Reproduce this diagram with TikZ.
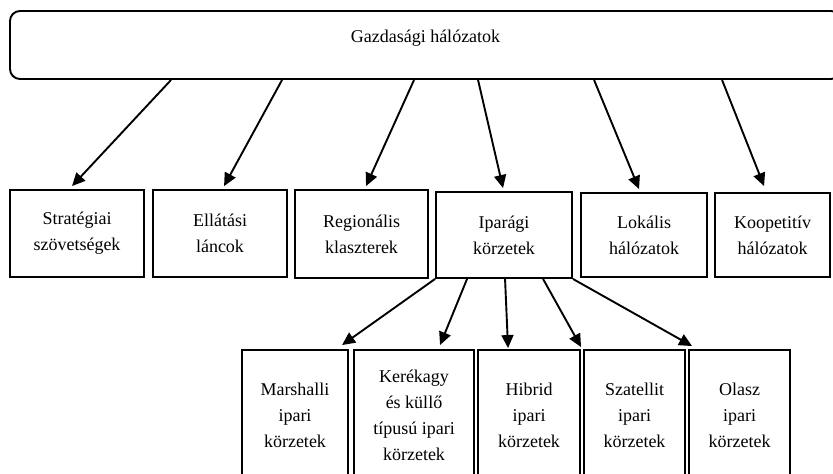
\documentclass[tikz,border=0pt]{standalone}
\usepackage{fontspec}
\setmainfont{Liberation Serif}
\usetikzlibrary{arrows.meta,positioning,calc}
\definecolor{hnInk}{HTML}{000000}
\definecolor{hnPaper}{HTML}{FFFFFF}
\tikzset{
  cell/.style={draw=hnInk, line width=1.9pt, fill=hnPaper, align=center, inner sep=2pt, font=\fontsize{18}{26}\selectfont},
  cellR/.style={cell, rounded corners=10pt},
  arr/.style={-{Triangle[length=13pt,width=12pt]}, line width=1.9pt, draw=hnInk},
}
\begin{document}
\begin{tikzpicture}[x=1pt, y=-1pt]
    \useasboundingbox (0,0) rectangle (833,474);
    \clip (0,0) rectangle (833,474);
    \fill[hnPaper] (0,0) rectangle (833,474);
    % ---------- top ----------
    \node[cellR, minimum width=831, minimum height=68] (gazd) at (425.5,45) {};
    \node[font=\fontsize{18}{26}\selectfont, anchor=base, inner sep=0pt] (gazdlbl) at (425.5,42) {Gazdasági hálózatok};
    % ---------- middle row ----------
    \node[cell, minimum width=134, minimum height=87] (strat) at (77,233.5) {Stratégiai\\szövetségek};
    \node[cell, minimum width=134, minimum height=87] (ellat) at (220,233.5) {Ellátási\\láncok};
    \node[cell, minimum width=133, minimum height=88] (regio) at (361.5,234) {Regionális\\klaszterek};
    \node[cell, minimum width=136, minimum height=86] (ipar) at (504,235) {Iparági\\körzetek};
    \node[cell, minimum width=126, minimum height=84] (lokal) at (644,235) {Lokális\\hálózatok};
    \node[cell, minimum width=115, minimum height=84] (koop) at (772.5,235) {Koopetitív\\hálózatok};
    % ---------- bottom row ----------
    \node[cell, minimum width=106, minimum height=130] (marsh) at (295,415) {Marshalli\\ipari\\körzetek};
    \node[cell, minimum width=120, minimum height=130] (kerek) at (414,415) {Kerékagy\\és küllő\\típusú ipari\\körzetek};
    \node[cell, minimum width=102, minimum height=130] (hibrid) at (529,415) {Hibrid\\ipari\\körzetek};
    \node[cell, minimum width=101, minimum height=130] (szat) at (634.5,415) {Szatellit\\ipari\\körzetek};
    \node[cell, minimum width=101, minimum height=130] (olasz) at (739.5,415) {Olasz\\ipari\\körzetek};
    % ---------- arrows ----------
    \draw[arr] ($(gazd.south west)+(162,0)$) -- ($(strat.north west)+(63,-3)$);
    \draw[arr] ($(gazd.south west)+(273,0)$) -- ($(ellat.north west)+(72,-3)$);
    \draw[arr] ($(gazd.south west)+(405,0)$) -- ($(regio.north west)+(72,-3)$);
    \draw[arr] ($(gazd.south west)+(469,0)$) -- ($(ipar.north west)+(68,-3)$);
    \draw[arr] ($(gazd.south west)+(585,0)$) -- ($(lokal.north west)+(59,-3)$);
    \draw[arr] ($(gazd.south west)+(713,0)$) -- ($(koop.north west)+(50,-6)$);
    \draw[arr] (ipar.south west) -- ($(marsh.north west)+(101,-4)$);
    \draw[arr] ($(ipar.south west)+(32,0)$) -- ($(kerek.north west)+(87,-4)$);
    \draw[arr] ($(ipar.south west)+(70,0)$) -- ($(hibrid.north west)+(31,-1)$);
    \draw[arr] ($(ipar.south west)+(108,0)$) -- ($(szat.north west)+(-2,-2)$);
    \draw[arr] (ipar.south east) -- ($(olasz.north west)+(4,-3)$);
\end{tikzpicture}
\end{document}
